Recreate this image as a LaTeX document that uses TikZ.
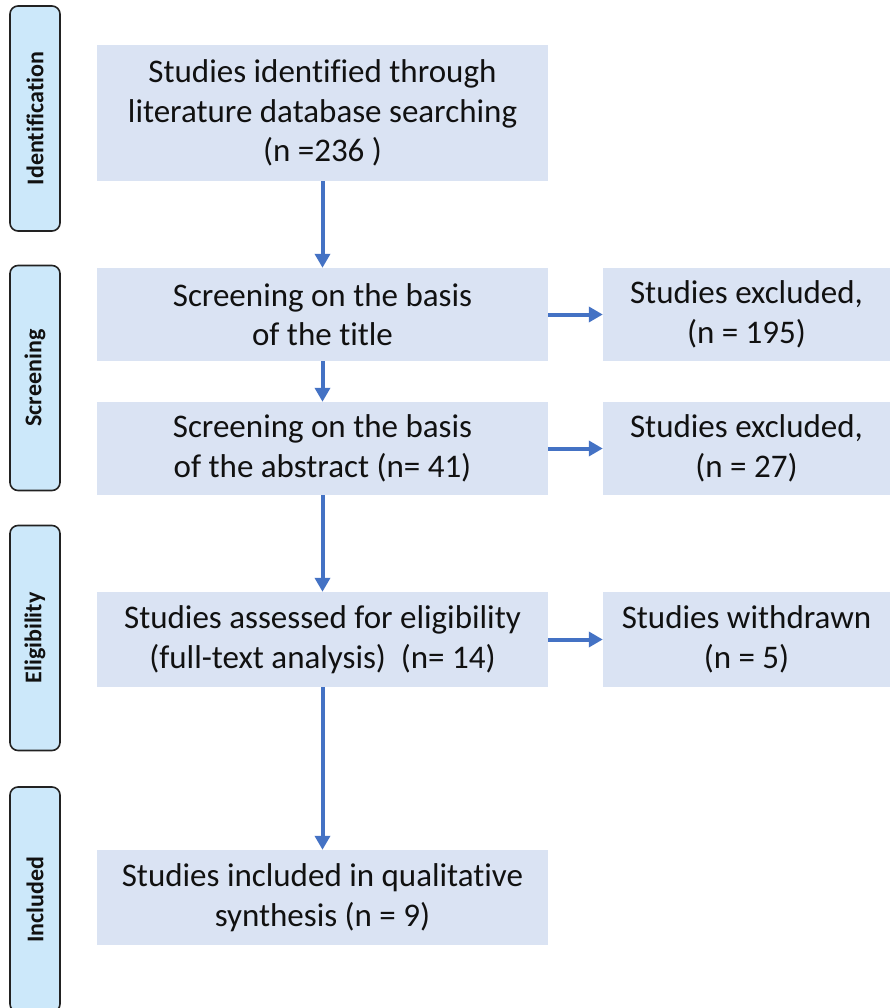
\documentclass[tikz,border=0pt]{standalone}
\usepackage{fontspec}
\setmainfont[Ligatures=NoCommon]{Carlito}
\usetikzlibrary{arrows.meta}
\definecolor{boxfill}{HTML}{DAE3F3}
\definecolor{sidefill}{HTML}{CCE8FA}
\definecolor{arrowblue}{HTML}{4472C4}
\definecolor{sideedge}{HTML}{222222}
\definecolor{txt}{HTML}{111111}
\begin{document}
\begin{tikzpicture}[x=1pt,y=-1pt,
  mainbox/.style={fill=boxfill,draw=none,align=center,inner sep=0pt,
    font=\fontsize{33}{39.5}\selectfont,text=txt},
  sidebox/.style={fill=sidefill,draw=sideedge,line width=1.6pt,rounded corners=8pt,
    minimum width=50pt,minimum height=225pt,inner sep=0pt,
    font=\fontsize{24}{28}\selectfont\bfseries,text=txt},
  flow/.style={draw=arrowblue,line width=4pt,-{Triangle[length=14pt,width=15pt]}}]
\useasboundingbox (0,0) rectangle (890,1008);
% stage labels
\node[sidebox] (sid) at (35,118.5) {\rotatebox{90}{Identification}};
\node[sidebox] (sscr) at (35,378) {\rotatebox{90}{Screening}};
\node[sidebox] (selig) at (35,638) {\rotatebox{90}{Eligibility}};
\node[sidebox] (sinc) at (35,899.5) {\rotatebox{90}{Included}};
% main boxes
\node[mainbox,minimum width=451pt,minimum height=136pt] (b1) at (322.5,113)
  {Studies identified through\\literature database searching\\(n =236 )};
\node[mainbox,minimum width=451pt,minimum height=93pt] (b2) at (322.5,314.5)
  {Screening on the basis\\of the title};
\node[mainbox,minimum width=451pt,minimum height=93pt] (b3) at (322.5,448.5)
  {Screening on the basis\\of the abstract (n= 41)};
\node[mainbox,minimum width=451pt,minimum height=95pt] (b4) at (322.5,639.5)
  {Studies assessed for eligibility\\(full-text analysis)\ \ (n= 14)};
\node[mainbox,minimum width=451pt,minimum height=95pt] (b5) at (322.5,897.5)
  {Studies included in qualitative\\synthesis (n = 9)};
% right boxes
\node[mainbox,minimum width=287pt,minimum height=93pt] (r1) at (746.5,314.5)
  {Studies excluded,\\(n = 195)};
\node[mainbox,minimum width=287pt,minimum height=93pt] (r2) at (746.5,448.5)
  {Studies excluded,\\(n = 27)};
\node[mainbox,minimum width=287pt,minimum height=95pt] (r3) at (746.5,639.5)
  {Studies withdrawn\\(n = 5)};
% connectors
\draw[flow] (b1.south) -- (b2.north);
\draw[flow] (b2.south) -- (b3.north);
\draw[flow] (b3.south) -- (b4.north);
\draw[flow] (b4.south) -- (b5.north);
\draw[flow] (b2.east) -- (r1.west);
\draw[flow] (b3.east) -- (r2.west);
\draw[flow] (b4.east) -- (r3.west);
\end{tikzpicture}
\end{document}
